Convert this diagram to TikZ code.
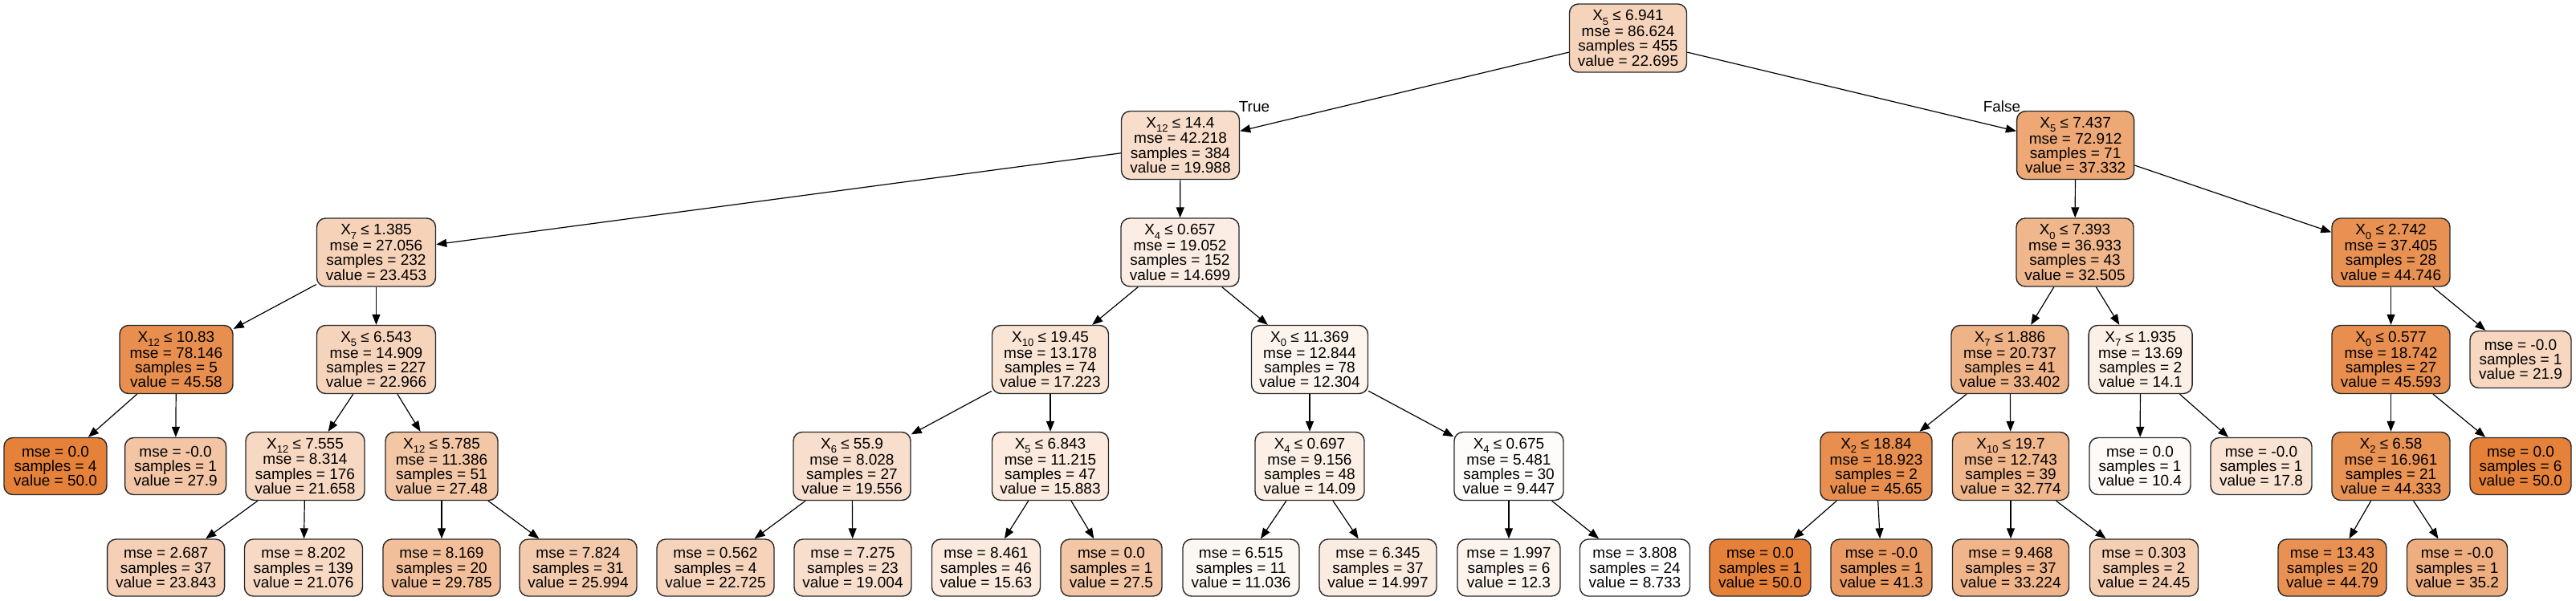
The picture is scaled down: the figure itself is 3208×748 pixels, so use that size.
\documentclass[tikz,border=0pt]{standalone}
\usepackage{fontspec}
\setmainfont{Liberation Sans}
\usetikzlibrary{arrows.meta}
\definecolor{tc}{RGB}{229,129,57}
\definecolor{bd}{RGB}{40,40,40}
\newcommand\xs[1]{X\raisebox{-0.28em}{\fontsize{13}{13}\selectfont #1}}
\begin{document}
\begin{tikzpicture}[x=1pt,y=-1pt,
  tn/.style={draw=bd, line width=1.4pt, rounded corners=11pt, align=center, inner xsep=3pt, inner ysep=2pt, font=\fontsize{19}{18.3}\selectfont, minimum height=85pt},
  lf/.style={tn, minimum height=71pt},
  edge/.style={line width=1.2pt, draw=black, -{Triangle[length=13pt,width=10pt]}},
  lbl/.style={font=\fontsize{19}{18.3}\selectfont, inner sep=0pt}
]
\fill[white] (0,0) rectangle (3208,748);
\useasboundingbox (0,0) rectangle (3208,748);

% level 0
\node[tn, minimum width=146pt, fill=tc!34!white] (root) at (2027.5,47.5) {\xs{5} ≤ 6.941\\mse = 86.624\\samples = 455\\value = 22.695};
% level 1
\node[tn, minimum width=147pt, fill=tc!27!white] (A) at (1470,181) {\xs{12} ≤ 14.4\\mse = 42.218\\samples = 384\\value = 19.988};
\node[tn, minimum width=146pt, fill=tc!69!white] (B) at (2584.6,181) {\xs{5} ≤ 7.437\\mse = 72.912\\samples = 71\\value = 37.332};
% level 2
\node[tn, minimum width=148pt, fill=tc!36!white] (C) at (468.5,314.5) {\xs{7} ≤ 1.385\\mse = 27.056\\samples = 232\\value = 23.453};
\node[tn, minimum width=147pt, fill=tc!14!white] (D) at (1469.5,314.5) {\xs{4} ≤ 0.657\\mse = 19.052\\samples = 152\\value = 14.699};
\node[tn, minimum width=146pt, fill=tc!58!white] (E) at (2584,314.5) {\xs{0} ≤ 7.393\\mse = 36.933\\samples = 43\\value = 32.505};
\node[tn, minimum width=147pt, fill=tc!87!white] (F) at (2977.5,314.5) {\xs{0} ≤ 2.742\\mse = 37.405\\samples = 28\\value = 44.746};
% level 3
\node[tn, minimum width=141pt, fill=tc!89!white] (G) at (219.5,448) {\xs{12} ≤ 10.83\\mse = 78.146\\samples = 5\\value = 45.58};
\node[tn, minimum width=148pt, fill=tc!34!white] (H) at (468.5,448) {\xs{5} ≤ 6.543\\mse = 14.909\\samples = 227\\value = 22.966};
\node[tn, minimum width=145pt, fill=tc!21!white] (I) at (1308,448) {\xs{10} ≤ 19.45\\mse = 13.178\\samples = 74\\value = 17.223};
\node[tn, minimum width=145pt, fill=tc!9!white] (J) at (1631,448) {\xs{0} ≤ 11.369\\mse = 12.844\\samples = 78\\value = 12.304};
\node[tn, minimum width=146pt, fill=tc!60!white] (K) at (2503,448) {\xs{7} ≤ 1.886\\mse = 20.737\\samples = 41\\value = 33.402};
\node[tn, minimum width=129pt, fill=tc!13!white] (L) at (2665.6,448) {\xs{7} ≤ 1.935\\mse = 13.69\\samples = 2\\value = 14.1};
\node[tn, minimum width=147pt, fill=tc!89!white] (M) at (2977.5,448) {\xs{0} ≤ 0.577\\mse = 18.742\\samples = 27\\value = 45.593};
\node[lf, minimum width=126pt, fill=tc!32!white] (fa) at (3139,448) {mse = -0.0\\samples = 1\\value = 21.9};
% level 4
\node[lf, minimum width=128pt, fill=tc!100!white] (ga) at (69,581) {mse = 0.0\\samples = 4\\value = 50.0};
\node[lf, minimum width=126pt, fill=tc!46!white] (gb) at (218.6,581) {mse = -0.0\\samples = 1\\value = 27.9};
\node[tn, minimum width=148pt, fill=tc!31!white] (N1) at (380,581) {\xs{12} ≤ 7.555\\mse = 8.314\\samples = 176\\value = 21.658};
\node[tn, minimum width=140pt, fill=tc!45!white] (N2) at (550,581) {\xs{12} ≤ 5.785\\mse = 11.386\\samples = 51\\value = 27.48};
\node[tn, minimum width=146pt, fill=tc!26!white] (P) at (1061,581) {\xs{6} ≤ 55.9\\mse = 8.028\\samples = 27\\value = 19.556};
\node[tn, minimum width=145pt, fill=tc!17!white] (Q) at (1308,581) {\xs{5} ≤ 6.843\\mse = 11.215\\samples = 47\\value = 15.883};
\node[tn, minimum width=136pt, fill=tc!13!white] (R) at (1631,581) {\xs{4} ≤ 0.697\\mse = 9.156\\samples = 48\\value = 14.09};
\node[tn, minimum width=136pt, fill=tc!2!white] (S) at (1879,581) {\xs{4} ≤ 0.675\\mse = 5.481\\samples = 30\\value = 9.447};
\node[tn, minimum width=139pt, fill=tc!89!white] (T) at (2336.5,581) {\xs{2} ≤ 18.84\\mse = 18.923\\samples = 2\\value = 45.65};
\node[tn, minimum width=145pt, fill=tc!58!white] (U) at (2504,581) {\xs{10} ≤ 19.7\\mse = 12.743\\samples = 39\\value = 32.774};
\node[lf, minimum width=126pt, fill=tc!4!white] (la) at (2665,581) {mse = 0.0\\samples = 1\\value = 10.4};
\node[lf, minimum width=126pt, fill=tc!22!white] (lb) at (2816,581) {mse = -0.0\\samples = 1\\value = 17.8};
\node[tn, minimum width=147pt, fill=tc!86!white] (V) at (2977.5,581) {\xs{2} ≤ 6.58\\mse = 16.961\\samples = 21\\value = 44.333};
\node[lf, minimum width=126pt, fill=tc!100!white] (ma) at (3139,581) {mse = 0.0\\samples = 6\\value = 50.0};
% level 5
\node[lf, minimum width=146pt, fill=tc!37!white] (n1a) at (206.6,707.5) {mse = 2.687\\samples = 37\\value = 23.843};
\node[lf, minimum width=147pt, fill=tc!30!white] (n1b) at (378,707.5) {mse = 8.202\\samples = 139\\value = 21.076};
\node[lf, minimum width=146pt, fill=tc!51!white] (n2a) at (550,707.5) {mse = 8.169\\samples = 20\\value = 29.785};
\node[lf, minimum width=146pt, fill=tc!42!white] (n2b) at (720,707.5) {mse = 7.824\\samples = 31\\value = 25.994};
\node[lf, minimum width=146pt, fill=tc!34!white] (pa) at (891,707.5) {mse = 0.562\\samples = 4\\value = 22.725};
\node[lf, minimum width=146pt, fill=tc!25!white] (pb) at (1062,707.5) {mse = 7.275\\samples = 23\\value = 19.004};
\node[lf, minimum width=135pt, fill=tc!17!white] (qa) at (1228,707.5) {mse = 8.461\\samples = 46\\value = 15.63};
\node[lf, minimum width=126pt, fill=tc!45!white] (qb) at (1384,707.5) {mse = 0.0\\samples = 1\\value = 27.5};
\node[lf, minimum width=145pt, fill=tc!6!white] (ra) at (1545.5,707.5) {mse = 6.515\\samples = 11\\value = 11.036};
\node[lf, minimum width=146pt, fill=tc!15!white] (rb) at (1716,707.5) {mse = 6.345\\samples = 37\\value = 14.997};
\node[lf, minimum width=128pt, fill=tc!9!white] (sa) at (1879,707.5) {mse = 1.997\\samples = 6\\value = 12.3};
\node[lf, minimum width=137pt, fill=tc!0!white] (sb) at (2036,707.5) {mse = 3.808\\samples = 24\\value = 8.733};
\node[lf, minimum width=126pt, fill=tc!100!white] (ta) at (2192,707.5) {mse = 0.0\\samples = 1\\value = 50.0};
\node[lf, minimum width=126pt, fill=tc!79!white] (tb) at (2343,707.5) {mse = -0.0\\samples = 1\\value = 41.3};
\node[lf, minimum width=145pt, fill=tc!59!white] (ua) at (2504,707.5) {mse = 9.468\\samples = 37\\value = 33.224};
\node[lf, minimum width=135pt, fill=tc!38!white] (ub) at (2670,707.5) {mse = 0.303\\samples = 2\\value = 24.45};
\node[lf, minimum width=135pt, fill=tc!87!white] (va) at (2904.5,707.5) {mse = 13.43\\samples = 20\\value = 44.79};
\node[lf, minimum width=125pt, fill=tc!64!white] (vb) at (3060,707.5) {mse = -0.0\\samples = 1\\value = 35.2};

% edge labels
\node[lbl] (tlab) at (1562,133) {True};
\node[lbl] (flab) at (2493,133) {False};

% edges
\draw[edge] (root) -- (A);
\draw[edge] (root) -- (B);
\draw[edge] (A) -- (C);
\draw[edge] (A) -- (D);
\draw[edge] (B) -- (E);
\draw[edge] (B) -- (F);
\draw[edge] (C) -- (G);
\draw[edge] (C) -- (H);
\draw[edge] (D) -- (I);
\draw[edge] (D) -- (J);
\draw[edge] (E) -- (K);
\draw[edge] (E) -- (L);
\draw[edge] (F) -- (M);
\draw[edge] (F) -- (fa);
\draw[edge] (G) -- (ga);
\draw[edge] (G) -- (gb);
\draw[edge] (H) -- (N1);
\draw[edge] (H) -- (N2);
\draw[edge] (I) -- (P);
\draw[edge] (I) -- (Q);
\draw[edge] (J) -- (R);
\draw[edge] (J) -- (S);
\draw[edge] (K) -- (T);
\draw[edge] (K) -- (U);
\draw[edge] (L) -- (la);
\draw[edge] (L) -- (lb);
\draw[edge] (M) -- (V);
\draw[edge] (M) -- (ma);
\draw[edge] (N1) -- (n1a);
\draw[edge] (N1) -- (n1b);
\draw[edge] (N2) -- (n2a);
\draw[edge] (N2) -- (n2b);
\draw[edge] (P) -- (pa);
\draw[edge] (P) -- (pb);
\draw[edge] (Q) -- (qa);
\draw[edge] (Q) -- (qb);
\draw[edge] (R) -- (ra);
\draw[edge] (R) -- (rb);
\draw[edge] (S) -- (sa);
\draw[edge] (S) -- (sb);
\draw[edge] (T) -- (ta);
\draw[edge] (T) -- (tb);
\draw[edge] (U) -- (ua);
\draw[edge] (U) -- (ub);
\draw[edge] (V) -- (va);
\draw[edge] (V) -- (vb);
\end{tikzpicture}
\end{document}
